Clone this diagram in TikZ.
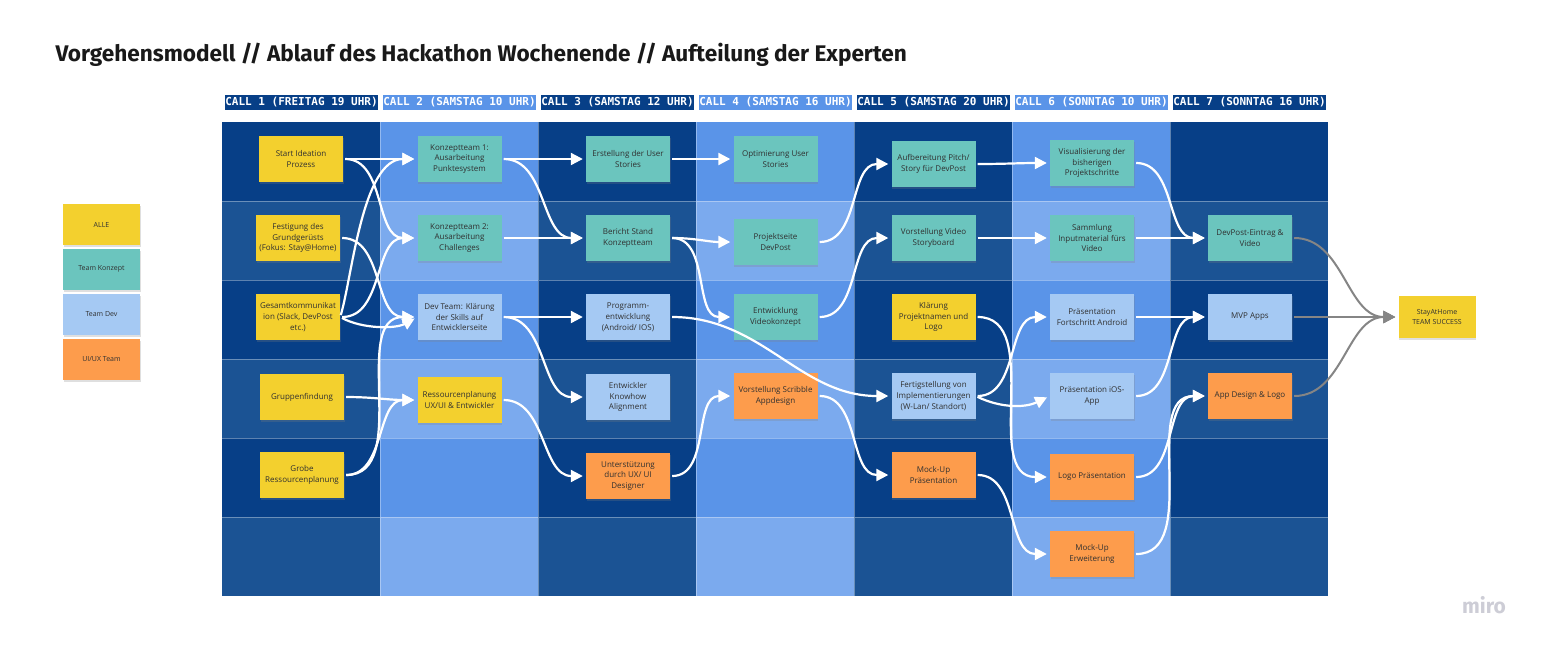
\documentclass[tikz,border=0pt]{standalone}
\usepackage{fontspec}
\setmainfont{Open Sans}
\newfontfamily\titlefont{Fira Sans}
\newfontfamily\callfont{DejaVu Sans Mono}
\usetikzlibrary{arrows.meta,shadows}
\definecolor{cell0}{HTML}{073F87}
\definecolor{cell1}{HTML}{1B5394}
\definecolor{cell2}{HTML}{5A94E8}
\definecolor{cell3}{HTML}{7BAAEE}
\definecolor{stickyY}{HTML}{F3D02E}
\definecolor{stickyT}{HTML}{6BC5BE}
\definecolor{stickyB}{HTML}{A5C9F3}
\definecolor{stickyO}{HTML}{FD9C4C}
\definecolor{notetext}{HTML}{303030}
\definecolor{finalgray}{HTML}{858585}
\definecolor{mirogray}{HTML}{CDCDD6}
\tikzset{
  sticky/.style={minimum width=84pt,minimum height=46pt,inner sep=1pt,align=center,
    font=\fontsize{8}{10.8}\selectfont,text=notetext,
    drop shadow={opacity=0.25,shadow xshift=0.5pt,shadow yshift=-2pt}},
  alle/.style={sticky,fill=stickyY},
  konzept/.style={sticky,fill=stickyT},
  devnote/.style={sticky,fill=stickyB},
  uiux/.style={sticky,fill=stickyO},
  legend/.style={minimum width=77pt,minimum height=41pt,font=\fontsize{7}{9.5}\selectfont},
  callhead/.style={minimum width=151pt,minimum height=15pt,inner sep=0pt,text=white,
    font=\callfont\bfseries\fontsize{11}{11}\selectfont},
  flow/.style={draw=white,line width=2.2pt,-{Triangle[length=12pt,width=12pt]},
    shorten <=2pt,shorten >=3pt},
  finalflow/.style={flow,draw=finalgray,line width=2pt}
}
\begin{document}
\begin{tikzpicture}[x=1pt,y=-1pt]
  \useasboundingbox (0,0) rectangle (1541,648);
  \fill[white] (0,0) rectangle (1541,648);
  \node[anchor=base west,text=black!90,font=\titlefont\bfseries\fontsize{22.6}{25}\selectfont] (title) at (52,61)
    {Vorgehensmodell // Ablauf des Hackathon Wochenende // Aufteilung der Experten};

  % board
  \foreach \c in {0,...,6}{
    \foreach \r in {0,...,5}{
      \pgfmathtruncatemacro{\k}{2*mod(\c,2)+mod(\r,2)}
      \fill[cell\k] (222+158*\c,122+79*\r) rectangle ++(158,79);
    }
  }
  \draw[white,opacity=0.35,line width=0.8pt]
    (222,201) -- (1328,201) (222,280) -- (1328,280) (222,359) -- (1328,359)
    (222,438) -- (1328,438) (222,517) -- (1328,517)
    (380,122) -- (380,596) (538,122) -- (538,596) (696,122) -- (696,596)
    (854,122) -- (854,596) (1012,122) -- (1012,596) (1170,122) -- (1170,596);

  \node[callhead,fill=cell0] (call1) at (301.5,102.5) {CALL 1 (FREITAG 19 UHR)};
  \node[callhead,fill=cell2] (call2) at (459.5,102.5) {CALL 2 (SAMSTAG 10 UHR)};
  \node[callhead,fill=cell0] (call3) at (617.5,102.5) {CALL 3 (SAMSTAG 12 UHR)};
  \node[callhead,fill=cell2] (call4) at (775.5,102.5) {CALL 4 (SAMSTAG 16 UHR)};
  \node[callhead,fill=cell0] (call5) at (933.5,102.5) {CALL 5 (SAMSTAG 20 UHR)};
  \node[callhead,fill=cell2] (call6) at (1091.5,102.5) {CALL 6 (SONNTAG 10 UHR)};
  \node[callhead,fill=cell0] (call7) at (1249.5,102.5) {CALL 7 (SONNTAG 16 UHR)};

  % legend
  \node[alle,legend] (legAlle) at (101.5,224.5) {ALLE};
  \node[konzept,legend] (legKonzept) at (101.5,269) {Team Konzept};
  \node[devnote,legend] (legDev) at (101.5,314.5) {Team Dev};
  \node[uiux,legend] (legUiux) at (101.5,359.5) {UI/UX Team};

  % call 1
  \node[alle] (ideation) at (301,159) {Start Ideation\\Prozess};
  \node[alle] (festigung) at (298,238) {Festigung des\\Grundgerüsts\\(Fokus: Stay@Home)};
  \node[alle] (gesamt) at (298,317) {Gesamtkommunikat\\ion (Slack, DevPost\\etc.)};
  \node[alle] (gruppen) at (302,397) {Gruppenfindung};
  \node[alle] (grobe) at (302,475) {Grobe\\Ressourcenplanung};
  % call 2
  \node[konzept] (kt1) at (459.5,159) {Konzeptteam 1:\\Ausarbeitung\\Punktesystem};
  \node[konzept] (kt2) at (459.5,238) {Konzeptteam 2:\\Ausarbeitung\\Challenges};
  \node[devnote] (devteam) at (459.5,317) {Dev Team: Klärung\\der Skills auf\\Entwicklerseite};
  \node[alle] (ressourcen) at (459.5,400) {Ressourcenplanung\\UX/UI \& Entwickler};
  % call 3
  \node[konzept] (userstories) at (628,159) {Erstellung der User\\Stories};
  \node[konzept] (bericht) at (628,238) {Bericht Stand\\Konzeptteam};
  \node[devnote] (programm) at (628,317) {Programm-\\entwicklung\\(Android/ IOS)};
  \node[devnote] (knowhow) at (628,397) {Entwickler\\Knowhow\\Alignment};
  \node[uiux] (support) at (628,476) {Unterstützung\\durch UX/ UI\\Designer};
  % call 4
  \node[konzept] (optimierung) at (775.5,159) {Optimierung User\\Stories};
  \node[konzept] (projektseite) at (775.5,242) {Projektseite\\DevPost};
  \node[konzept] (videokonzept) at (775.5,317) {Entwicklung\\Videokonzept};
  \node[uiux] (scribble) at (775.5,396) {Vorstellung Scribble\\Appdesign};
  % call 5
  \node[konzept] (pitch) at (933.5,164) {Aufbereitung Pitch/\\Story für DevPost};
  \node[konzept] (storyboard) at (933.5,238) {Vorstellung Video\\Storyboard};
  \node[alle] (projektname) at (933.5,317) {Klärung\\Projektnamen und\\Logo};
  \node[devnote] (implement) at (933.5,396) {Fertigstellung von\\Implementierungen\\(W-Lan/ Standort)};
  \node[uiux] (mockup) at (933.5,475) {Mock-Up\\Präsentation};
  % call 6
  \node[konzept] (visual) at (1092,163) {Visualisierung der\\bisherigen\\Projektschritte};
  \node[konzept] (sammlung) at (1092,238) {Sammlung\\Inputmaterial fürs\\Video};
  \node[devnote] (android) at (1092,317) {Präsentation\\Fortschritt Android};
  \node[devnote] (ios) at (1092,396) {Präsentation iOS-\\App};
  \node[uiux] (logopraes) at (1092,477) {Logo Präsentation};
  \node[uiux] (mockerw) at (1092,554) {Mock-Up\\Erweiterung};
  % call 7
  \node[konzept] (devpost) at (1250,238) {DevPost-Eintrag \&\\Video};
  \node[devnote] (mvp) at (1250,317) {MVP Apps};
  \node[uiux] (appdesign) at (1250,396) {App Design \& Logo};
  % result
  \node[alle,minimum width=77pt,minimum height=42pt,font=\fontsize{7}{9.5}\selectfont] (success) at (1437,317) {StayAtHome\\TEAM SUCCESS};

  % call 1 -> call 2
  \draw[flow] (ideation.east) -- (ideation.east -| kt1.west);
  \draw[flow] (ideation.east) to[out=0,in=180] (kt2.west);
  \draw[flow] (festigung.east) to[out=0,in=180] (devteam.west);
  \draw[flow] (gesamt.east) .. controls +(12,-40) and +(-55,0) .. (kt1.west);
  \draw[flow] (gesamt.east) to[out=0,in=180] (kt2.west);
  \draw[flow] (gesamt.east) .. controls +(22,12) and +(-22,12) .. (devteam.west);
  \draw[flow] (gruppen.east) to[out=0,in=180] (ressourcen.west);
  \draw[flow] (grobe.east) to[out=0,in=180] (devteam.west);
  \draw[flow] (grobe.east) to[out=0,in=180] (ressourcen.west);
  % call 2 -> call 3
  \draw[flow] (kt1.east) -- (userstories.west);
  \draw[flow] (kt1.east) to[out=0,in=180] (bericht.west);
  \draw[flow] (kt2.east) -- (bericht.west);
  \draw[flow] (devteam.east) -- (programm.west);
  \draw[flow] (devteam.east) to[out=0,in=180] (knowhow.west);
  \draw[flow] (ressourcen.east) to[out=0,in=180] (support.west);
  % call 3 -> call 4
  \draw[flow] (userstories.east) -- (optimierung.west);
  \draw[flow] (bericht.east) to[out=0,in=180] (projektseite.west);
  \draw[flow] (bericht.east) to[out=0,in=180] (videokonzept.west);
  \draw[flow] (programm.east) to[out=0,in=180] (implement.west);
  \draw[flow] (support.east) to[out=0,in=180] (scribble.west);
  % call 4 -> call 5
  \draw[flow] (projektseite.east) to[out=0,in=180] (pitch.west);
  \draw[flow] (videokonzept.east) to[out=0,in=180] (storyboard.west);
  \draw[flow] (scribble.east) to[out=0,in=180] (mockup.west);
  % call 5 -> call 6
  \draw[flow] (pitch.east) to[out=0,in=180] (visual.west);
  \draw[flow] (storyboard.east) -- (sammlung.west);
  \draw[flow] (projektname.east) to[out=0,in=180] (logopraes.west);
  \draw[flow] (implement.east) to[out=0,in=180] (android.west);
  \draw[flow] (implement.east) .. controls +(25,12) and +(-25,12) .. (ios.west);
  \draw[flow] (mockup.east) to[out=0,in=180] (mockerw.west);
  % call 6 -> call 7
  \draw[flow] (visual.east) to[out=0,in=180] (devpost.west);
  \draw[flow] (sammlung.east) -- (devpost.west);
  \draw[flow] (android.east) -- (mvp.west);
  \draw[flow] (ios.east) to[out=0,in=180] (mvp.west);
  \draw[flow] (logopraes.east) to[out=0,in=180] (appdesign.west);
  \draw[flow] (mockerw.east) to[out=0,in=180] (appdesign.west);
  % call 7 -> result
  \draw[finalflow] (devpost.east) to[out=0,in=180] (success.west);
  \draw[finalflow] (mvp.east) -- (success.west);
  \draw[finalflow] (appdesign.east) to[out=0,in=180] (success.west);

  \node[text=mirogray,font=\titlefont\bfseries\fontsize{21}{21}\selectfont] (miro) at (1484,605) {miro};
\end{tikzpicture}
\end{document}
